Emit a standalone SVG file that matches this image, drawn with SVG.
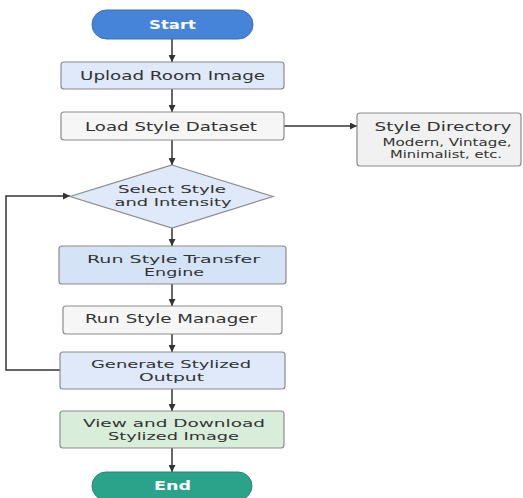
<svg xmlns="http://www.w3.org/2000/svg" width="523" height="498" viewBox="0 0 523 498">
<defs>
<style>
.t{font-family:"DejaVu Sans",sans-serif;font-size:12px;fill:#333;text-anchor:middle}
.t2{font-family:"DejaVu Sans",sans-serif;font-size:11px;fill:#333;text-anchor:middle}
.box{stroke:#8c8c8c;stroke-width:1.2}
.blue{fill:#dfe9f9}
.blue2{fill:#d5e3f6}
.grey{fill:#f6f6f6}
.green{fill:#d9eddb}
.conn{fill:none;stroke:#333;stroke-width:1.5}
.term{font-family:"DejaVu Sans",sans-serif;font-size:12px;font-weight:bold;fill:#fff;text-anchor:middle}
</style>
<marker id="ah" viewBox="0 0 10 10" refX="10" refY="5" markerWidth="7" markerHeight="7" orient="auto" markerUnits="userSpaceOnUse">
<path d="M0,0 L10,5 L0,10 z" fill="#333"/>
</marker>
</defs>
<rect width="523" height="498" fill="#fff"/>
<g id="connectors">
<line class="conn" x1="172" y1="39" x2="172" y2="62" marker-end="url(#ah)"/>
<line class="conn" x1="172" y1="89" x2="172" y2="112" marker-end="url(#ah)"/>
<line class="conn" x1="172" y1="140" x2="172" y2="165" marker-end="url(#ah)"/>
<line class="conn" x1="172" y1="228" x2="172" y2="246" marker-end="url(#ah)"/>
<line class="conn" x1="172" y1="284" x2="172" y2="306" marker-end="url(#ah)"/>
<line class="conn" x1="172" y1="334" x2="172" y2="352" marker-end="url(#ah)"/>
<line class="conn" x1="172" y1="389" x2="172" y2="411" marker-end="url(#ah)"/>
<line class="conn" x1="172" y1="448" x2="172" y2="472" marker-end="url(#ah)"/>
<line class="conn" x1="284" y1="126" x2="357" y2="126" stroke-width="1" marker-end="url(#ah)"/>
<path class="conn" d="M60,370 H6 V196 H70" stroke-width="1.2" marker-end="url(#ah)"/>
</g>
<g id="start">
<rect x="92" y="10" width="161" height="29" rx="14.5" fill="#4684d9" stroke="#3a6fb8" stroke-width="1"/>
<text class="term" x="172.5" y="29" textLength="47" lengthAdjust="spacingAndGlyphs">Start</text>
</g>
<g id="upload">
<rect class="box blue" x="61" y="62" width="223" height="27" rx="3"/>
<text class="t" x="172.5" y="80" textLength="185" lengthAdjust="spacingAndGlyphs">Upload Room Image</text>
</g>
<g id="load">
<rect class="box grey" x="61" y="112" width="223" height="28" rx="3"/>
<text class="t" x="171" y="130.5" textLength="172" lengthAdjust="spacingAndGlyphs">Load Style Dataset</text>
</g>
<g id="styledir">
<rect class="box" x="357" y="113" width="164" height="53" rx="3" fill="#f1f1f1"/>
<text class="t" x="443" y="131" style="font-size:13px" textLength="137" lengthAdjust="spacingAndGlyphs">Style Directory</text>
<text class="t" x="447" y="146" style="font-size:10px" textLength="129" lengthAdjust="spacingAndGlyphs">Modern, Vintage,</text>
<text class="t" x="446" y="158" style="font-size:10px" textLength="112" lengthAdjust="spacingAndGlyphs">Minimalist, etc.</text>
</g>
<g id="select">
<polygon class="box blue" points="172,165 273,196.5 172,228 70,196.5"/>
<text class="t2" x="172" y="193" textLength="108" lengthAdjust="spacingAndGlyphs">Select Style</text>
<text class="t2" x="173" y="206" textLength="117" lengthAdjust="spacingAndGlyphs">and Intensity</text>
</g>
<g id="transfer">
<rect class="box blue2" x="59" y="246" width="227" height="38" rx="3"/>
<text class="t2" x="173.5" y="263" textLength="173" lengthAdjust="spacingAndGlyphs">Run Style Transfer</text>
<text class="t2" x="174" y="276" textLength="60" lengthAdjust="spacingAndGlyphs">Engine</text>
</g>
<g id="manager">
<rect class="box grey" x="63" y="306" width="219" height="28" rx="3"/>
<text class="t" x="171" y="323" textLength="172" lengthAdjust="spacingAndGlyphs">Run Style Manager</text>
</g>
<g id="generate">
<rect class="box blue" x="60" y="352" width="225" height="37" rx="3"/>
<text class="t2" x="171" y="368" textLength="160" lengthAdjust="spacingAndGlyphs">Generate Stylized</text>
<text class="t2" x="171.5" y="381" textLength="65" lengthAdjust="spacingAndGlyphs">Output</text>
</g>
<g id="view">
<rect class="box green" x="60" y="411" width="224" height="37" rx="3"/>
<text class="t2" x="174" y="427" textLength="182" lengthAdjust="spacingAndGlyphs">View and Download</text>
<text class="t2" x="173.5" y="440" textLength="131" lengthAdjust="spacingAndGlyphs">Stylized Image</text>
</g>
<g id="end">
<rect x="92" y="472" width="160" height="28" rx="14" fill="#2ba38a" stroke="#238a74" stroke-width="1"/>
<text class="term" x="172.5" y="489.5" textLength="37" lengthAdjust="spacingAndGlyphs">End</text>
</g>
</svg>
